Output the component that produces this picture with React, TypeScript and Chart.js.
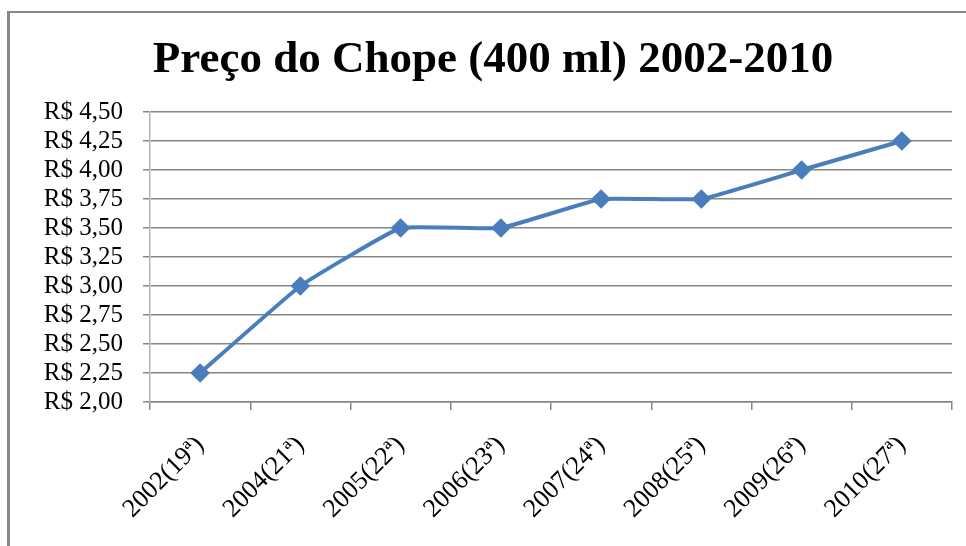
import React, { useEffect, useRef } from "react";
import { Chart, registerables } from "chart.js";

Chart.register(...registerables);

const titleText = "Preço do Chope (400 ml) 2002-2010";
const categories = [
  "2002(19ª)",
  "2004(21ª)",
  "2005(22ª)",
  "2006(23ª)",
  "2007(24ª)",
  "2008(25ª)",
  "2009(26ª)",
  "2010(27ª)",
];
const prices = [2.25, 3.0, 3.5, 3.5, 3.75, 3.75, 4.0, 4.25];
const yTickValues = [2.0, 2.25, 2.5, 2.75, 3.0, 3.25, 3.5, 3.75, 4.0, 4.25, 4.5];
const yTickLabels = [
  "R$ 2,00",
  "R$ 2,25",
  "R$ 2,50",
  "R$ 2,75",
  "R$ 3,00",
  "R$ 3,25",
  "R$ 3,50",
  "R$ 3,75",
  "R$ 4,00",
  "R$ 4,25",
  "R$ 4,50",
];

const SERIF = '"Liberation Serif", "Times New Roman", serif';

const titlePlugin = {
  id: "customTitle",
  afterDraw(chart: any) {
    const ctx = chart.ctx;
    ctx.save();
    ctx.font = `bold 45px ${SERIF}`;
    ctx.fillStyle = "#000";
    ctx.textAlign = "center";
    ctx.textBaseline = "alphabetic";
    ctx.fillText(titleText, 493, 72);
    ctx.restore();
  },
};

export default function App() {
  const ref = useRef<HTMLCanvasElement>(null);

  useEffect(() => {
    if (!ref.current) return;
    const chart = new Chart(ref.current, {
      type: "line",
      data: {
        labels: categories,
        datasets: [
          {
            data: prices,
            borderColor: "#4a7ebb",
            backgroundColor: "#4a7ebb",
            borderWidth: 4,
            pointStyle: "rectRot",
            pointRadius: 7,
            pointHoverRadius: 7,
            pointBackgroundColor: "#4a7ebb",
            pointBorderColor: "#4a7ebb",
            tension: 0.1,
          },
        ],
      },
      options: {
        animation: false,
        responsive: true,
        maintainAspectRatio: false,
        layout: { padding: { left: 0, right: 14, top: 112, bottom: 0 } },
        plugins: {
          legend: { display: false },
          title: { display: false },
          tooltip: { enabled: false },
        },
        scales: {
          x: {
            offset: true,
            grid: {
              offset: true,
              drawOnChartArea: false,
              tickLength: 8,
              color: "#868686",
              lineWidth: 1.5,
            },
            border: { color: "#868686", width: 1.5 },
            ticks: {
              minRotation: 45,
              maxRotation: 45,
              autoSkip: false,
              color: "#000",
              padding: 20,
              font: { family: SERIF, size: 26 },
            },
            afterFit: (s: any) => {
              s.height = 144;
            },
          },
          y: {
            min: 2,
            max: 4.5,
            afterBuildTicks: (s: any) => {
              s.ticks = yTickValues.map((v) => ({ value: v }));
            },
            ticks: {
              autoSkip: false,
              color: "#000",
              padding: 20,
              font: { family: SERIF, size: 25 },
              callback: (_v: any, i: number) => yTickLabels[i],
            },
            grid: { color: "#868686", lineWidth: 1.5, tickLength: 7 },
            border: { color: "#b4b4b4", width: 1.5 },
            afterFit: (s: any) => {
              s.width = 150;
            },
          },
        },
      },
      plugins: [titlePlugin],
    });
    return () => chart.destroy();
  }, []);

  return (
    <div style={{ position: "fixed", left: 0, top: 0, width: 966, height: 546, background: "#fff" }}>
      <div
        style={{
          position: "absolute",
          left: 7,
          top: 11,
          width: 980,
          height: 560,
          borderLeft: "3px solid #868686",
          borderTop: "2px solid #868686",
        }}
      />
      <div style={{ position: "absolute", left: 0, top: 0, width: 966, height: 546 }}>
        <canvas ref={ref} />
      </div>
    </div>
  );
}
